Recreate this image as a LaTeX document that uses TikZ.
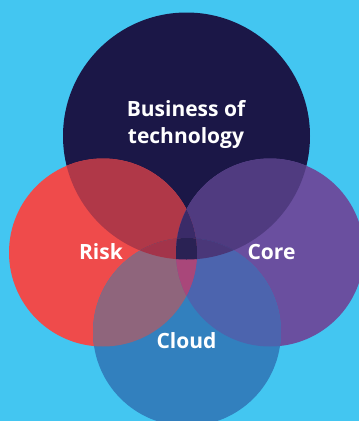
\documentclass[tikz,border=0pt]{standalone}
\usepackage{fontspec}
\setmainfont{Open Sans}
\definecolor{bgc}{HTML}{43C6F1}
\definecolor{colN}{HTML}{1B1747}
\definecolor{colR}{HTML}{EF4B4B}
\definecolor{colP}{HTML}{6A4F9F}
\definecolor{colB}{HTML}{3280BE}
\definecolor{colNR}{HTML}{B03848}
\definecolor{colNP}{HTML}{503B80}
\definecolor{colNB}{HTML}{2A2152}
\definecolor{colRB}{HTML}{8F657C}
\definecolor{colPB}{HTML}{4C64AE}
\definecolor{colRP}{HTML}{A9477A}
\definecolor{colNRB}{HTML}{A3344A}
\definecolor{colNPB}{HTML}{4A3779}
\definecolor{colNRP}{HTML}{3A2B68}
\definecolor{colRPB}{HTML}{A9477A}
\definecolor{colNRPB}{HTML}{2A2254}
\tikzset{lbl/.style={text=white, font=\bfseries\fontsize{21}{25}\selectfont, anchor=base, inner sep=0pt, align=center}}
\def\rN{123.5}
\def\rR{94}
\def\rP{94}
\def\rB{94}
\begin{document}
\begin{tikzpicture}[x=1pt,y=-1pt]
\fill[bgc] (0,0) rectangle (359,421);
\useasboundingbox (0,0) rectangle (359,421);
\clip (0,0) rectangle (359,421);
\coordinate (cN) at (186.5,136);
\coordinate (cR) at (103,252.5);
\coordinate (cP) at (270,252.5);
\coordinate (cB) at (187,332);
% single circles
\fill[colN] (cN) circle[radius=\rN];
\fill[colR] (cR) circle[radius=\rR];
\fill[colP] (cP) circle[radius=\rP];
\fill[colB] (cB) circle[radius=\rB];
% pairs
\begin{scope}\clip (cN) circle[radius=\rN]; \fill[colNR] (cR) circle[radius=\rR]; \end{scope}
\begin{scope}\clip (cN) circle[radius=\rN]; \fill[colNP] (cP) circle[radius=\rP]; \end{scope}
\begin{scope}\clip (cN) circle[radius=\rN]; \fill[colNB] (cB) circle[radius=\rB]; \end{scope}
\begin{scope}\clip (cR) circle[radius=\rR]; \fill[colRB] (cB) circle[radius=\rB]; \end{scope}
\begin{scope}\clip (cP) circle[radius=\rP]; \fill[colPB] (cB) circle[radius=\rB]; \end{scope}
\begin{scope}\clip (cR) circle[radius=\rR]; \fill[colRP] (cP) circle[radius=\rP]; \end{scope}
% triples
\begin{scope}\clip (cN) circle[radius=\rN]; \clip (cR) circle[radius=\rR]; \fill[colNRB] (cB) circle[radius=\rB]; \end{scope}
\begin{scope}\clip (cN) circle[radius=\rN]; \clip (cP) circle[radius=\rP]; \fill[colNPB] (cB) circle[radius=\rB]; \end{scope}
\begin{scope}\clip (cN) circle[radius=\rN]; \clip (cR) circle[radius=\rR]; \fill[colNRP] (cP) circle[radius=\rP]; \end{scope}
\begin{scope}\clip (cR) circle[radius=\rR]; \clip (cP) circle[radius=\rP]; \fill[colRPB] (cB) circle[radius=\rB]; \end{scope}
% quadruple
\begin{scope}\clip (cN) circle[radius=\rN]; \clip (cR) circle[radius=\rR]; \clip (cP) circle[radius=\rP]; \fill[colNRPB] (cB) circle[radius=\rB]; \end{scope}
% labels
\node[lbl] (tN1) at (186,116) {Business of};
\node[lbl] (tN2) at (186,143) {technology};
\node[lbl] (tR) at (101,259) {Risk};
\node[lbl] (tP) at (271.5,259) {Core};
\node[lbl] (tB) at (186.5,348) {Cloud};
\end{tikzpicture}
\end{document}
